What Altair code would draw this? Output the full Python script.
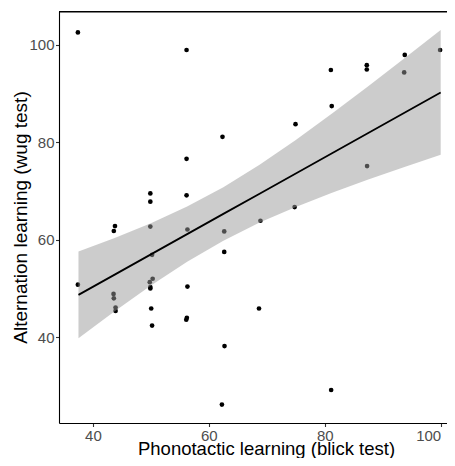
import altair as alt
import pandas as pd

# Scatter data
phonotactic = [37.4, 37.4, 43.8, 43.6, 43.55, 43.6, 43.9, 43.9,
               49.9, 49.9, 49.9, 50.2, 50.3, 49.8, 49.9, 49.9, 50.05, 50.2,
               56.15, 56.15, 56.15, 56.3, 56.3, 56.2, 56.1,
               62.35, 62.65, 62.65, 62.7, 62.25,
               68.9, 68.65, 74.95, 74.8,
               81.05, 81.2, 81.1,
               87.25, 87.25, 87.3, 93.8, 93.7, 99.9]
alternation = [102.5, 50.8, 62.8, 61.8, 48.9, 48.0, 46.1, 45.4,
               69.5, 67.8, 62.7, 56.9, 52.0, 51.3, 50.3, 50.0, 45.9, 42.4,
               98.9, 76.6, 69.1, 62.1, 50.4, 44.0, 43.6,
               81.1, 61.7, 57.5, 38.2, 26.2,
               63.9, 45.9, 83.7, 66.7,
               94.8, 87.4, 29.2,
               95.8, 94.9, 75.1, 97.9, 94.3, 98.9]

# Fitted line and confidence band
fit_x = [37.5, 43.75, 50, 56.25, 62.5, 68.75, 75, 81.25, 87.5, 93.75, 100]
fit_y = [48.70, 52.85, 57.00, 61.15, 65.30, 69.45, 73.60, 77.75, 81.90, 86.05, 90.20]
fit_lo = [39.82, 45.34, 50.62, 55.49, 59.81, 63.52, 66.74, 69.63, 72.33, 74.91, 77.41]
fit_hi = [57.58, 60.36, 63.38, 66.81, 70.79, 75.38, 80.46, 85.87, 91.47, 97.19, 102.99]

x_ticks = [40, 60, 80, 100]
y_ticks = [40, 60, 80, 100]

X_DOMAIN = [34.14, 101.09]
Y_DOMAIN = [22.43, 106.9]

pts = pd.DataFrame({"x": phonotactic, "y": alternation})
fit = pd.DataFrame({"x": fit_x, "y": fit_y, "lo": fit_lo, "hi": fit_hi})
frame = pd.DataFrame({"x0": [X_DOMAIN[0]], "x1": [X_DOMAIN[1]],
                      "y0": [106.58], "y1": [Y_DOMAIN[1]]})

W, H = 388, 412
FONT = "Liberation Sans"

xscale = alt.Scale(domain=X_DOMAIN, nice=False, zero=False)
yscale = alt.Scale(domain=Y_DOMAIN, nice=False, zero=False)

xaxis = alt.Axis(values=x_ticks, title="Phonotactic learning (blick test)",
                 titleX=207, titleY=31.5, titleBaseline="alphabetic", titleFontSize=18.5,
                 labelFlush=8)
yaxis = alt.Axis(values=y_ticks, title="Alternation learning (wug test)",
                 titleX=-32.5, titleY=206, titleBaseline="alphabetic", titleAngle=270)

points = alt.Chart(pts).mark_circle(size=22, color="black", opacity=1).encode(
    x=alt.X("x:Q", scale=xscale, axis=xaxis),
    y=alt.Y("y:Q", scale=yscale, axis=yaxis),
)

band = alt.Chart(fit).mark_area(color="#999999", opacity=0.5).encode(
    x=alt.X("x:Q", scale=xscale, axis=xaxis),
    y=alt.Y("lo:Q", scale=yscale, axis=yaxis),
    y2="hi:Q",
)

line = alt.Chart(fit).mark_line(color="black", strokeWidth=1.8).encode(
    x=alt.X("x:Q", scale=xscale, axis=xaxis),
    y=alt.Y("y:Q", scale=yscale, axis=yaxis),
)

top = alt.Chart(frame).mark_rect(color="black", opacity=1).encode(
    x=alt.X("x0:Q", scale=xscale, axis=xaxis),
    x2="x1:Q",
    y=alt.Y("y0:Q", scale=yscale, axis=yaxis),
    y2="y1:Q",
)

chart = alt.layer(points, band, line, top).properties(
    width=W, height=H,
    autosize=alt.AutoSizeParams(type="none"),
    padding={"left": 51, "top": 3, "right": 0, "bottom": 35},
).configure_view(stroke=None).configure_axis(
    grid=False,
    domainColor="black", domainWidth=1.1,
    tickColor="#333333", tickSize=3.5, tickWidth=1.1,
    labelColor="#4D4D4D", labelFont=FONT, labelFontSize=15, labelPadding=1.5,
    titleFont=FONT, titleFontSize=19, titleFontWeight="normal", titleColor="black",
)

chart.save("out.html", embed_options={"renderer": "svg", "actions": False})
